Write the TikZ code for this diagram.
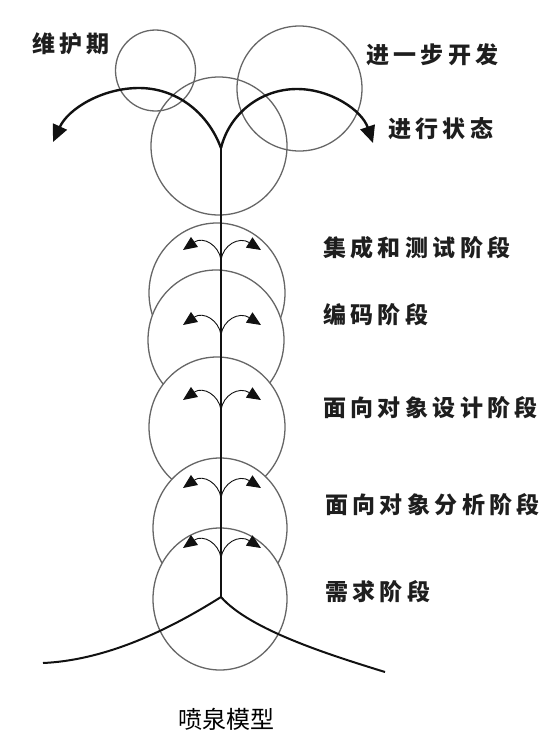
\documentclass[tikz,border=0pt]{standalone}
\usepackage{fontspec}
\newfontfamily\cjkb[LetterSpace=19]{Noto Sans CJK SC}
\newfontfamily\cjk{Noto Sans CJK SC}
\usetikzlibrary{arrows.meta}
\definecolor{ringgray}{HTML}{666666}
\definecolor{inkblack}{HTML}{111111}
\definecolor{textdark}{HTML}{1E1E1E}
\tikzset{
  ring/.style={draw=ringgray, line width=1.3pt},
  colring/.style={ring, fill=white},
  stem/.style={draw=inkblack, line width=1.7pt},
  bigarrow/.style={draw=inkblack, line width=2.4pt, -{Triangle[length=17pt,width=15pt]}},
  smallarrow/.style={draw=inkblack, line width=0.9pt, -{Triangle[length=14pt,width=12pt]}},
  ground/.style={draw=inkblack, line width=2pt},
  stagetext/.style={anchor=west, inner sep=0pt, text=textdark, font=\cjkb\bfseries\fontsize{23}{23}\selectfont},
  captiontext/.style={anchor=center, inner sep=0pt, text=black, font=\cjk\fontsize{24}{24}\selectfont}
}
\begin{document}
\begin{tikzpicture}[x=1pt,y=-1pt]
\useasboundingbox (0,0) rectangle (555,740);

% top circles (transparent)
\draw[ring] (155.5,70.5) ellipse [x radius=40, y radius=40.5];
\draw[ring] (299.5,88.5) ellipse [x radius=62.5, y radius=62.5];
\draw[ring] (219,146) ellipse [x radius=68, y radius=69];

% column circles, top to bottom, each covering the one above
\draw[colring] (217,293) ellipse [x radius=68, y radius=70];
\draw[colring] (216,340) ellipse [x radius=68, y radius=70];
\draw[colring] (217,427) ellipse [x radius=68, y radius=70];
\draw[colring] (220,528) ellipse [x radius=67, y radius=70];
\draw[colring] (220,599) ellipse [x radius=67, y radius=71];

% coordinates
\coordinate (top) at (221,148);
\coordinate (base) at (221,597);
\coordinate (tipL) at (53,142);
\coordinate (tipR) at (373,143);
\coordinate (endL) at (43,663);
\coordinate (endR) at (385,672);

% stem
\draw[stem] (top) -- (base);

% big arcs
\draw[bigarrow] (top) .. controls (207.6,112) and (176,88) .. (139,88)
                 .. controls (102,88) and (68,109) .. (tipL);
\draw[bigarrow] (top) .. controls (229.5,113.3) and (261,89) .. (297,89)
                 .. controls (331,89) and (362,110.6) .. (tipR);

% ground curves
\draw[ground] (base) .. controls (175,626) and (110,660) .. (endL);
\draw[ground] (base) .. controls (250,630) and (330,655) .. (endR);

% small fountains
\foreach \y [count=\i] in {260,335,410,498,558} {
  \coordinate (j\i) at (221,\y);
  \coordinate (l\i) at (183,\y-10);
  \coordinate (r\i) at (261,\y-10);
  \draw[smallarrow] (j\i) .. controls (219,\y-15) and (203,\y-24) .. (l\i);
  \draw[smallarrow] (j\i) .. controls (223,\y-15) and (239,\y-24) .. (r\i);
}

% labels
\node[stagetext] (weihu) at (32,44) {维护期};
\node[stagetext] (jinyibu) at (366,55) {进一步开发};
\node[stagetext] (jinxing) at (388,129) {进行状态};
\node[stagetext] (jicheng) at (323,248) {集成和测试阶段};
\node[stagetext] (bianma) at (323,315) {编码阶段};
\node[stagetext] (sheji) at (323,408) {面向对象设计阶段};
\node[stagetext] (fenxi) at (325,505) {面向对象分析阶段};
\node[stagetext] (xuqiu) at (325,592) {需求阶段};
\node[captiontext] (caption) at (226,719) {喷泉模型};
\end{tikzpicture}
\end{document}
